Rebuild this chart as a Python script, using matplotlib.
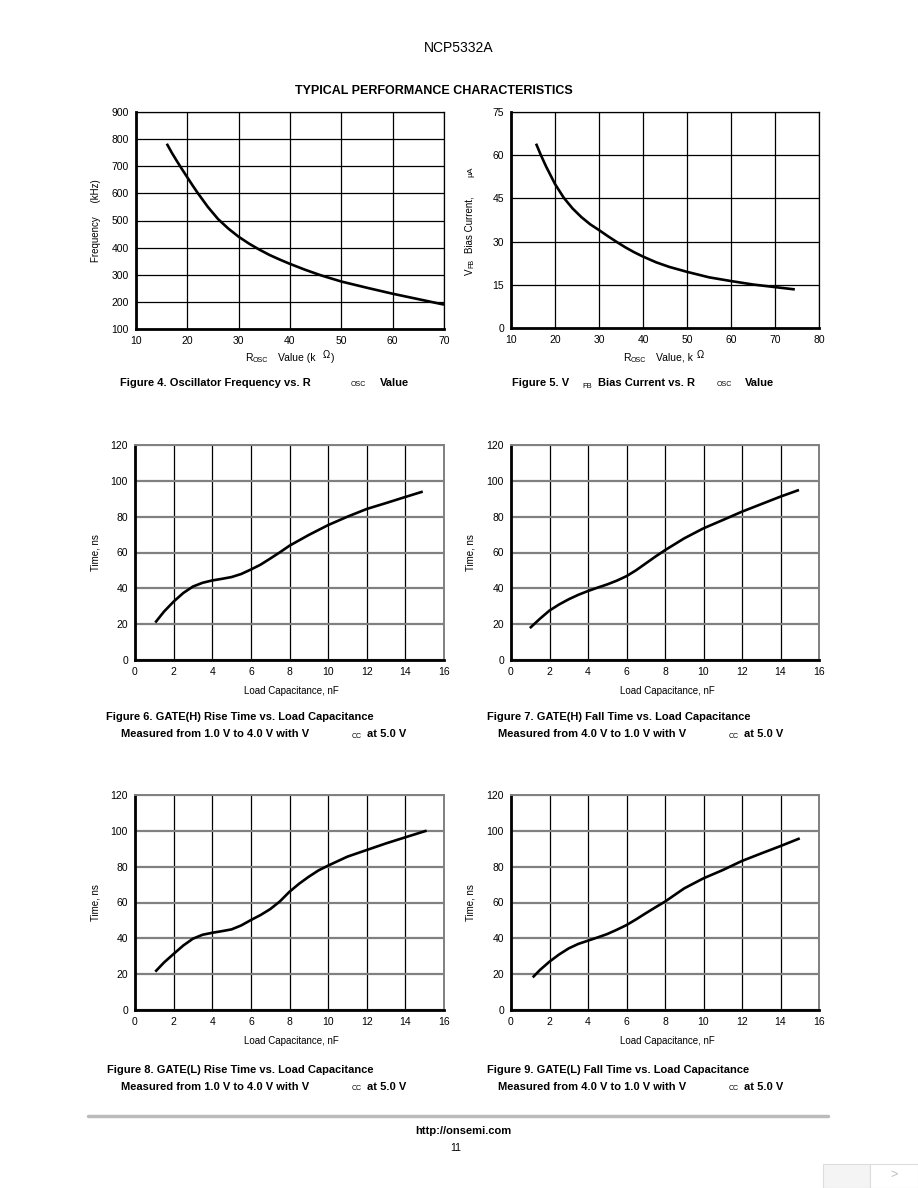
import matplotlib.pyplot as plt
from matplotlib.patches import Rectangle

plt.rcParams['font.family'] = ['Liberation Sans', 'DejaVu Sans']

W, H = 918, 1188

# Figure 4: oscillator frequency vs Rosc
r4 = [16, 17, 18, 19, 20, 21, 22, 24, 26, 28, 30, 32, 34, 36, 38, 40, 43, 46, 50, 55, 60, 65, 70]
f4 = [783, 749, 718, 688, 659, 630, 602, 550, 505, 470, 440, 415, 393, 373, 356, 340, 318, 298,
      275, 252, 230, 210, 190]

# Figure 5: VFB bias current vs Rosc
r5 = [15.7, 16.8, 18, 20, 22, 24, 26, 28, 30, 32, 34, 36, 38, 40, 43, 46, 50, 55, 60, 65, 70, 74.5]
i5 = [64.0, 60.0, 56.0, 50.0, 45.2, 41.5, 38.5, 36.0, 34.0, 31.9, 29.9, 28.0, 26.3, 24.8, 22.8,
      21.2, 19.5, 17.6, 16.3, 15.1, 14.2, 13.4]

# Figures 6-9: time vs load capacitance
cap6 = [1.05, 1.5, 2, 2.5, 3, 3.5, 4, 4.5, 5, 5.5, 6, 6.5, 7, 7.5, 8, 9, 10, 11, 12, 13, 14, 14.9]
t6 = [20.9, 27.0, 32.6, 37.4, 41.0, 43.1, 44.4, 45.3, 46.3, 48.0, 50.5, 53.2, 56.6, 60.1, 63.8,
      69.8, 75.3, 80.0, 84.3, 87.6, 91.0, 94.0]

cap7 = [0.98, 1.5, 2, 2.5, 3, 3.5, 4, 4.5, 5, 5.5, 6, 6.5, 7, 7.5, 8, 9, 10, 11, 12, 13, 14, 14.96]
t7 = [17.8, 23.0, 27.6, 31.0, 33.9, 36.4, 38.5, 40.4, 42.2, 44.3, 46.8, 50.1, 53.9, 57.7, 61.3,
      67.9, 73.5, 78.1, 82.8, 87.0, 91.2, 94.9]

cap8 = [1.05, 1.5, 2, 2.5, 3, 3.5, 4, 4.5, 5, 5.5, 6, 6.5, 7, 7.5, 8, 8.5, 9, 9.5, 10, 11, 12, 13,
        14, 15.1]
t8 = [21.4, 26.5, 31.3, 36.0, 39.8, 42.0, 43.1, 44.0, 45.0, 47.2, 50.2, 53.0, 56.3, 60.6, 66.0,
      70.5, 74.4, 77.9, 80.6, 85.6, 89.3, 93.0, 96.4, 100.1]

cap9 = [1.13, 1.5, 2, 2.5, 3, 3.5, 4, 4.5, 5, 5.5, 6, 6.5, 7, 7.5, 8, 9, 10, 11, 12, 13, 14, 15.0]
t9 = [18.2, 22.3, 27.0, 31.0, 34.4, 36.9, 38.7, 40.5, 42.4, 44.8, 47.4, 50.6, 54.0, 57.3, 60.5,
      67.9, 73.5, 78.1, 83.2, 87.4, 91.5, 95.8]


def px_axes(fig, left, top, right, bottom):
    return fig.add_axes([left / W, 1 - bottom / H, (right - left) / W, (bottom - top) / H])


def ftext(x, y, s, **kw):
    fig.text(x / W, 1 - y / H, s, **kw)


def style(ax, xlim, ylim, xt, yt, gray_h):
    ax.set_xlim(*xlim)
    ax.set_ylim(*ylim)
    ax.set_xticks(xt)
    ax.set_yticks(yt)
    ax.tick_params(length=0, labelsize=7.5, pad=5)
    ax.grid(axis='x', color='black', lw=0.9)
    if gray_h:
        ax.grid(axis='y', color='#808080', lw=1.6)
        edge = '#808080'
    else:
        ax.grid(axis='y', color='black', lw=0.9)
        edge = 'black'
    for s in ['top', 'right']:
        ax.spines[s].set_color(edge)
        ax.spines[s].set_linewidth(0.9 if not gray_h else 1.4)
    for s in ['left', 'bottom']:
        ax.spines[s].set_color('black')
        ax.spines[s].set_linewidth(2.0)
    ax.set_axisbelow(True)


def curve(ax, xs, ys):
    ax.plot(xs, ys, color='black', lw=1.9, solid_joinstyle='round', solid_capstyle='butt')


fig = plt.figure(figsize=(W / 100, H / 100), dpi=100)

ftext(459, 48, 'NCP5332A', ha='center', va='center', fontsize=10)
ftext(434, 91, 'TYPICAL PERFORMANCE CHARACTERISTICS', ha='center', va='center',
      fontsize=9, fontweight='bold')

# Figure 4
ax = px_axes(fig, 136, 112, 444, 329)
style(ax, (10, 70), (100, 900), range(10, 71, 10), range(100, 901, 100), False)
curve(ax, r4, f4)
ftext(96, 221, 'Frequency     (kHz)', rotation=90, ha='center', va='center', fontsize=7)
ftext(245, 358, 'R', ha='left', va='center', fontsize=7.5)
ftext(253, 360, 'OSC', ha='left', va='center', fontsize=5)
ftext(278, 358, 'Value (k', ha='left', va='center', fontsize=7.5)
ftext(323, 355, 'Ω', ha='left', va='center', fontsize=7)
ftext(331, 358, ')', ha='left', va='center', fontsize=7.5)
ftext(120, 383, 'Figure 4. Oscillator Frequency vs. R', ha='left', va='center',
      fontsize=8, fontweight='bold')
ftext(351, 385, 'OSC', ha='left', va='center', fontsize=5)
ftext(380, 383, 'Value', ha='left', va='center', fontsize=8, fontweight='bold')

# Figure 5
ax = px_axes(fig, 511, 112, 819, 328)
style(ax, (10, 80), (0, 75), range(10, 81, 10), range(0, 76, 15), False)
curve(ax, r5, i5)
ftext(470, 272, 'V', rotation=90, ha='center', va='center', fontsize=7)
ftext(472, 263, 'FB', rotation=90, ha='center', va='center', fontsize=5)
ftext(470, 225, 'Bias Current,', rotation=90, ha='center', va='center', fontsize=7)
ftext(471, 172, 'µA', rotation=90, ha='center', va='center', fontsize=6)
ftext(623, 358, 'R', ha='left', va='center', fontsize=7.5)
ftext(631, 360, 'OSC', ha='left', va='center', fontsize=5)
ftext(656, 358, 'Value, k', ha='left', va='center', fontsize=7.5)
ftext(697, 355, 'Ω', ha='left', va='center', fontsize=7)
ftext(512, 383, 'Figure 5. V', ha='left', va='center', fontsize=8, fontweight='bold')
ftext(582, 386, 'FB', ha='left', va='center', fontsize=5.5)
ftext(598, 383, 'Bias Current vs. R', ha='left', va='center', fontsize=8, fontweight='bold')
ftext(717, 385, 'OSC', ha='left', va='center', fontsize=5)
ftext(745, 383, 'Value', ha='left', va='center', fontsize=8, fontweight='bold')

# Figures 6-9
panels = [
    (135, 445, 444, 660, cap6, t6, 96, 'Figure 6. GATE(H) Rise Time vs. Load Capacitance',
     'Measured from 1.0 V to 4.0 V with V', 106, 121, 717),
    (511, 445, 819, 660, cap7, t7, 471, 'Figure 7. GATE(H) Fall Time vs. Load Capacitance',
     'Measured from 4.0 V to 1.0 V with V', 487, 498, 717),
    (135, 795, 444, 1010, cap8, t8, 96, 'Figure 8. GATE(L) Rise Time vs. Load Capacitance',
     'Measured from 1.0 V to 4.0 V with V', 107, 121, 1070),
    (511, 795, 819, 1010, cap9, t9, 471, 'Figure 9. GATE(L) Fall Time vs. Load Capacitance',
     'Measured from 4.0 V to 1.0 V with V', 487, 498, 1070),
]
for l, t, r, b, xs, ys, ylx, cap1, cap2, c1x, c2x, cy in panels:
    ax = px_axes(fig, l, t, r, b)
    style(ax, (0, 16), (0, 120), range(0, 17, 2), range(0, 121, 20), True)
    curve(ax, xs, ys)
    ftext(ylx, (t + b) / 2, 'Time, ns', rotation=90, ha='center', va='center', fontsize=7)
    ftext((l + r) / 2 + 2, b + 31, 'Load Capacitance, nF', ha='center', va='center', fontsize=7)
    ftext(c1x, cy, cap1, ha='left', va='center', fontsize=8, fontweight='bold')
    ftext(c2x, cy + 17, cap2, ha='left', va='center', fontsize=8, fontweight='bold')
    ftext(c2x + 231, cy + 19, 'CC', ha='left', va='center', fontsize=5)
    ftext(c2x + 246, cy + 17, 'at 5.0 V', ha='left', va='center', fontsize=8, fontweight='bold')

# footer
fig.add_artist(plt.Line2D([88 / W, 828 / W], [1 - 1116 / H, 1 - 1116 / H],
                          color='#bbbbbb', lw=2.5, solid_capstyle='round'))
ftext(463, 1131, 'http://onsemi.com', ha='center', va='center', fontsize=8, fontweight='bold')
ftext(456, 1148, '11', ha='center', va='center', fontsize=7.5)
fig.add_artist(Rectangle((823 / W, 0), 47 / W, 24 / H, transform=fig.transFigure,
                         facecolor='#f4f4f4', edgecolor='#dddddd', lw=0.8))
fig.add_artist(Rectangle((870 / W, 0), 48 / W, 24 / H, transform=fig.transFigure,
                         facecolor='white', edgecolor='#dddddd', lw=0.8))
ftext(894, 1175, '>', ha='center', va='center', fontsize=9, color='#bbbbbb')

fig.savefig('out.png', dpi=100)
